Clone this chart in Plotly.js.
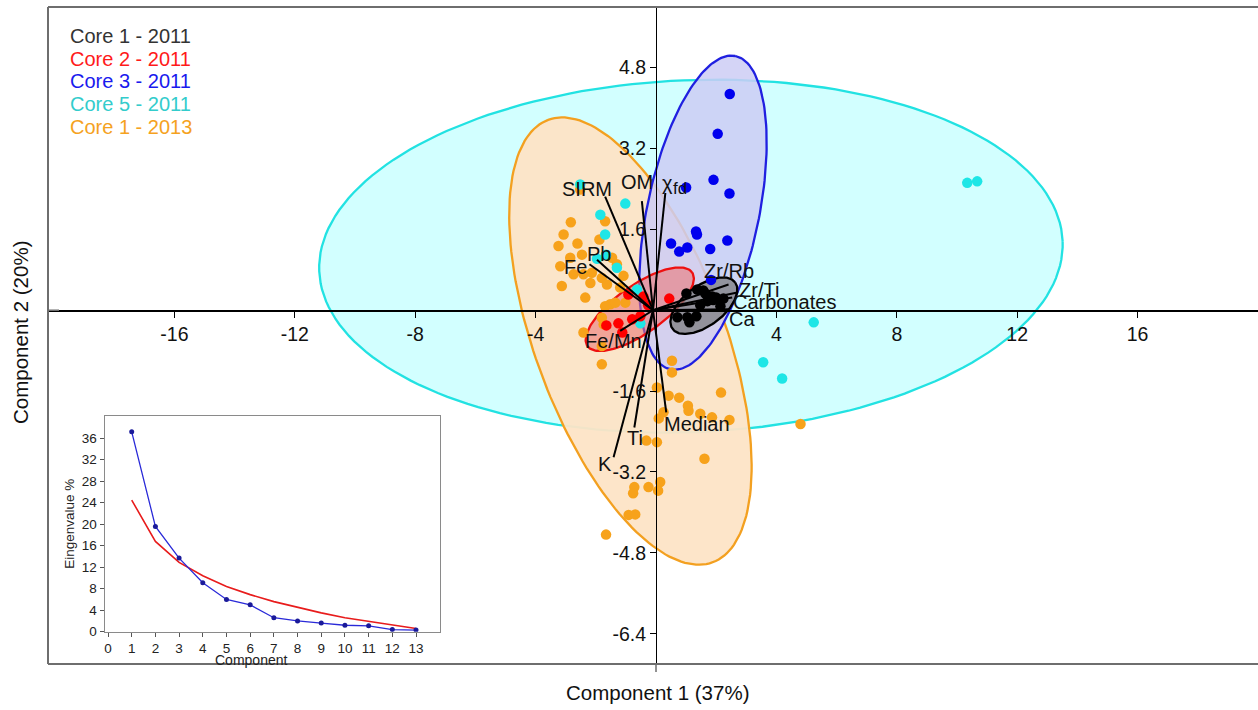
<!DOCTYPE html>
<html>
<head>
<meta charset="utf-8">
<script src="https://cdn.plot.ly/plotly-3.0.1.min.js"></script>
<style>html,body{margin:0;padding:0;background:#fff;}#chart{width:1258px;height:710px;}</style>
</head>
<body>
<div id="chart"></div>
<script>
// ---------------- DATA ----------------
const X_TICKS = [-16, -12, -8, -4, 4, 8, 12, 16];
const Y_TICKS = [-6.4, -4.8, -3.2, -1.6, 1.6, 3.2, 4.8];

const groupNames = ['Core 1 - 2011', 'Core 2 - 2011', 'Core 3 - 2011', 'Core 5 - 2011', 'Core 1 - 2013'];

const core1_2011_x = [1.01, 1.37, 1.64, 1.87, 1.71, 1.90, 1.47, 2.14, 2.24, 2.14, 0.71, 1.04, 1.11, 1.34, 2.00, 1.57];
const core1_2011_y = [0.33, 0.41, 0.33, 0.27, 0.18, 0.20, 0.10, 0.20, 0.23, 0.08, -0.14, -0.14, -0.24, -0.12, 0.25, 0.39];

const core2_2011_x = [-1.65, -1.25, -1.12, -0.92, -0.52, -0.42, -0.26, 0.44, -0.79];
const core2_2011_y = [-0.30, -0.26, -0.44, 0.31, -0.12, 0.27, 0.10, 0.23, -0.18];

const core3_2011_x = [2.45, 2.05, 1.91, 2.44, 1.00, 1.33, 1.36, 0.50, 0.77, 1.04, 1.80, 2.37, 1.83];
const core3_2011_y = [4.28, 3.49, 2.58, 2.31, 2.43, 1.56, 1.50, 1.32, 1.16, 1.24, 1.21, 1.38, 0.60];

const core5_2011_x = [-2.52, -1.02, -1.85, -1.69, -1.66, -1.96, -1.30, -0.63, -0.52, 10.34, 10.67, 5.24, 3.56, 4.19];
const core5_2011_y = [2.49, 2.11, 1.89, 1.50, 1.10, 1.02, 0.84, 0.41, -0.26, 2.52, 2.55, -0.24, -1.03, -1.35];

const core1_2013_x = [-2.52, -2.83, -3.07, -3.24, -2.61, -1.69, -1.88, -2.46, -2.85, -3.18, -1.46, -1.30, -2.74, -2.41, -2.13,
  -2.18, -1.80, -1.63, -1.08, -1.19, -3.13, -2.35, -1.52, -1.35, -1.02, -1.69, -1.80, -1.74, -2.41, -1.80, -1.80,
  0.53, 0.53, 0.03, 0.42, 0.77, 1.06, 1.08, 1.47, 1.86, 2.44, 2.16, 0.25, 0.09, -0.32, 0.03, 1.61, 0.14, -0.72,
  -0.76, -0.25, 0.07, -0.91, -0.69, -1.66, 4.80];
const core1_2013_y = [2.39, 1.74, 1.50, 1.27, 1.32, 1.76, 1.40, 1.10, 1.04, 0.87, 1.04, 0.91, 0.71, 0.71, 0.74,
  0.54, 0.64, 0.51, 0.68, 0.45, 0.48, 0.25, 0.12, 0.15, 0.15, 0.08, -0.15, -0.28, -0.44, -0.71, -1.07,
  -1.00, -1.23, -1.53, -1.69, -1.73, -1.89, -1.99, -2.05, -2.12, -2.17, -1.63, -2.02, -2.14, -2.58, -2.61, -2.94, -3.40, -3.50,
  -3.62, -3.50, -3.57, -4.05, -4.04, -4.44, -2.25];

// Loading vectors (biplot arrows); a label may carry a subscript part
const loadingNames = ['SIRM', 'OM', 'χ', 'Pb', 'Fe', 'Fe/Mn', 'Zr/Rb', 'Zr/Ti', 'Carbonates', 'Ca', 'Median', 'Ti', 'K'];
const loadingSubs  = ['', '', 'fd', '', '', '', '', '', '', '', '', '', ''];
const loadingX = [-1.69, -0.47, 0.31, -1.96, -2.21, -1.19, 2.41, 2.70, 2.53, 2.41, 0.34, -0.72, -1.41];
const loadingY = [2.25, 2.16, 2.32, 1.00, 0.91, -0.41, 0.51, 0.35, 0.25, 0.02, -2.02, -2.32, -2.91];

// Scree plot (inset)
const screeComponent = [1, 2, 3, 4, 5, 6, 7, 8, 9, 10, 11, 12, 13];
const screeEigen = [37.2, 19.6, 13.7, 9.1, 6.0, 5.0, 2.6, 2.0, 1.6, 1.2, 1.1, 0.4, 0.3];
const screeBrokenStick = [24.5, 16.8, 12.9, 10.4, 8.4, 6.9, 5.6, 4.5, 3.5, 2.6, 1.9, 1.2, 0.6];

// ---------------- STYLE / LAYOUT ----------------
const W = 1258, H = 710;
const M = {l: 48, r: 0, t: 7, b: 46};
const XR = [-20.2, 20.0], YR = [-7.0, 6.0];
const plotW = W - M.l - M.r, plotH = H - M.t - M.b;
const sx = plotW / (XR[1] - XR[0]), sy = plotH / (YR[1] - YR[0]);
const FONT = 'Arial, "Liberation Sans", sans-serif';
const px2paperX = p => (p - M.l) / plotW;
const px2paperY = p => (H - M.b - p) / plotH;

const groupColors = ['#000000', '#ff0000', '#0000ee', '#1ee6e6', '#f7a21b'];
const legendColors = ['#333333', '#ff1a1a', '#1a1aee', '#33cccc', '#f5a21e'];

// confidence ellipses: center (data), semi-axes (screen px), rotation (deg, screen, CCW)
const ellipses = [
  {c: [1.16, 1.07], a: 372, b: 176, ang: 2.3, line: '#22e2e2', fill: 'rgba(205,255,255,0.9)'},
  {c: [-0.85, -0.61], a: 236, b: 95, ang: 110.4, line: '#f3a020', fill: 'rgba(253,228,198,0.95)'},
  {c: [1.56, 1.93], a: 160, b: 56, ang: 78.3, line: '#2020e0', fill: 'rgba(205,205,245,0.85)'},
  {c: [-0.54, 0.02], a: 64, b: 24, ang: 35.2, line: '#ee1010', fill: 'rgba(235,120,120,0.6)'},
  {c: [1.59, 0.09], a: 39, b: 20, ang: 36.7, line: '#000000', fill: 'rgba(120,120,120,0.7)'}
];

function ellipseXY(e) {
  const xs = [], ys = [];
  const th = e.ang * Math.PI / 180;
  for (let i = 0; i <= 180; i++) {
    const t = i / 180 * 2 * Math.PI;
    const u = e.a * Math.cos(t), v = e.b * Math.sin(t);
    const X = u * Math.cos(th) - v * Math.sin(th);
    const Y = u * Math.sin(th) + v * Math.cos(th);
    xs.push(e.c[0] + X / sx);
    ys.push(e.c[1] + Y / sy);
  }
  return {xs, ys};
}

const traces = [];
ellipses.forEach(e => {
  const p = ellipseXY(e);
  traces.push({x: p.xs, y: p.ys, type: 'scatter', mode: 'lines', fill: 'toself',
    fillcolor: e.fill, line: {color: e.line, width: 2.3}, hoverinfo: 'skip', showlegend: false,
    xaxis: 'x', yaxis: 'y'});
});

const groupsX = [core1_2011_x, core2_2011_x, core3_2011_x, core5_2011_x, core1_2013_x];
const groupsY = [core1_2011_y, core2_2011_y, core3_2011_y, core5_2011_y, core1_2013_y];
[4, 3, 2, 1, 0].forEach(g => {
  traces.push({x: groupsX[g], y: groupsY[g], type: 'scatter', mode: 'markers', name: groupNames[g],
    marker: {color: groupColors[g], size: 10.5, line: {width: 0}}, showlegend: false, xaxis: 'x', yaxis: 'y'});
});

// loading lines
const ORIGIN = [-0.1, 0.0];
const lx = [], ly = [];
loadingX.forEach((v, i) => { lx.push(ORIGIN[0], v, null); ly.push(ORIGIN[1], loadingY[i], null); });
traces.push({x: lx, y: ly, type: 'scatter', mode: 'lines', line: {color: '#000', width: 2}, hoverinfo: 'skip',
  showlegend: false, xaxis: 'x', yaxis: 'y'});

// scree inset
traces.push({x: screeComponent, y: screeBrokenStick, type: 'scatter', mode: 'lines',
  line: {color: '#e81c1c', width: 1.6}, xaxis: 'x2', yaxis: 'y2', showlegend: false});
traces.push({x: screeComponent, y: screeEigen, type: 'scatter', mode: 'lines+markers',
  line: {color: '#2a2ad8', width: 1.3}, marker: {color: '#1a1a9a', size: 5}, xaxis: 'x2', yaxis: 'y2', showlegend: false});

// label offsets (px) for loading labels
const labelShift = [
  {dx: -18, dy: 8}, {dx: -5, dy: 19}, {dx: 2, dy: 10}, {dx: 2, dy: 6}, {dx: -14, dy: -3}, {dx: -7, dy: -10},
  {dx: 0, dy: 13}, {dx: 22, dy: 3}, {dx: 52, dy: -4}, {dx: 13, dy: -10}, {dx: 31, dy: -12}, {dx: 1, dy: -11}, {dx: -9, dy: -7}
];

const annotations = [];
loadingNames.forEach((n, i) => {
  annotations.push({x: loadingX[i], y: loadingY[i], xref: 'x', yref: 'y', text: n, showarrow: false,
    xshift: labelShift[i].dx, yshift: labelShift[i].dy, font: {family: FONT, size: 20, color: '#111'},
    xanchor: 'center', yanchor: 'middle'});
  if (loadingSubs[i]) {
    annotations.push({x: loadingX[i], y: loadingY[i], xref: 'x', yref: 'y', text: loadingSubs[i], showarrow: false,
      xshift: labelShift[i].dx + 4, yshift: labelShift[i].dy - 6, font: {family: FONT, size: 17, color: '#111'},
      xanchor: 'left', yanchor: 'middle'});
  }
});
// legend texts
groupNames.forEach((n, i) => {
  annotations.push({x: px2paperX(68), y: px2paperY(36 + i * 22.7), xref: 'paper', yref: 'paper',
    text: n, showarrow: false, xanchor: 'left', yanchor: 'middle', font: {family: FONT, size: 20, color: legendColors[i]}});
});
// axis titles
annotations.push({x: px2paperX(657), y: px2paperY(692), xref: 'paper', yref: 'paper', xanchor: 'center', yanchor: 'middle',
  text: 'Component 1 (37%)', showarrow: false, font: {family: FONT, size: 20.5, color: '#111'}});
annotations.push({x: px2paperX(20), y: px2paperY(333), xref: 'paper', yref: 'paper', xanchor: 'center', yanchor: 'middle',
  text: 'Component 2 (20%)', textangle: -90, showarrow: false, font: {family: FONT, size: 20.5, color: '#111'}});
// inset x title
annotations.push({x: px2paperX(251), y: px2paperY(660), xref: 'paper', yref: 'paper', xanchor: 'center', yanchor: 'middle',
  text: 'Component', showarrow: false, font: {family: FONT, size: 14, color: '#222'}});

const frameColor = '#6e6e6e';
const shapes = [
  {type: 'rect', xref: 'paper', yref: 'paper', x0: px2paperX(104.7), x1: px2paperX(439.7),
    y0: px2paperY(631.7), y1: px2paperY(415.7), fillcolor: '#fff', line: {width: 0}, layer: 'below'},
  {type: 'line', xref: 'paper', yref: 'paper', x0: 0, x1: 1, y0: 1, y1: 1, line: {color: frameColor, width: 2}},
  {type: 'line', xref: 'paper', yref: 'paper', x0: 0, x1: 0, y0: 0, y1: 1, line: {color: frameColor, width: 2}},
  {type: 'line', xref: 'paper', yref: 'paper', x0: 0, x1: 1, y0: 0, y1: 0, line: {color: frameColor, width: 2}},
  {type: 'line', xref: 'x', yref: 'paper', x0: 0, x1: 0, y0: 0, y1: -8 / plotH, line: {color: frameColor, width: 1.5}},
  {type: 'line', xref: 'paper', yref: 'y', x0: 0, x1: 11 / plotW, y0: 0, y1: 0, line: {color: frameColor, width: 1.5}}
];

const layout = {
  width: W, height: H, margin: M, paper_bgcolor: '#fff', plot_bgcolor: 'rgba(0,0,0,0)',
  showlegend: false, font: {family: FONT, color: '#111'},
  xaxis: {range: XR, domain: [0, 1], anchor: 'free', position: (0 - YR[0]) / (YR[1] - YR[0]),
    showline: true, linecolor: '#000', linewidth: 1.3, ticks: 'outside', ticklen: 6, tickcolor: '#000',
    tickvals: X_TICKS, ticktext: X_TICKS.map(String), showgrid: false, zeroline: false,
    tickfont: {family: FONT, size: 19.5, color: '#111'}, fixedrange: true},
  yaxis: {range: YR, domain: [0, 1], anchor: 'free', position: (0 - XR[0]) / (XR[1] - XR[0]),
    showline: true, linecolor: '#000', linewidth: 1.3, ticks: 'outside', ticklen: 6, tickcolor: '#000',
    tickvals: Y_TICKS, ticktext: Y_TICKS.map(v => v.toFixed(1)), showgrid: false, zeroline: false,
    tickfont: {family: FONT, size: 19.5, color: '#111'}, fixedrange: true},
  xaxis2: {domain: [px2paperX(104.7), px2paperX(439.7)], anchor: 'y2', range: [-0.14, 14],
    showline: true, mirror: true, linecolor: '#8a8a8a', linewidth: 1.2, ticks: 'outside', ticklen: 4,
    tickcolor: '#555', tickvals: [0,1,2,3,4,5,6,7,8,9,10,11,12,13], showgrid: false, zeroline: false,
    tickfont: {family: FONT, size: 13.5, color: '#222'}},
  yaxis2: {domain: [px2paperY(631.7), px2paperY(415.7)], anchor: 'x2', range: [0, 40.2],
    showline: true, mirror: true, linecolor: '#8a8a8a', linewidth: 1.2, ticks: 'outside', ticklen: 4,
    tickcolor: '#555', tickvals: [0,4,8,12,16,20,24,28,32,36], showgrid: false, zeroline: false,
    tickfont: {family: FONT, size: 13.5, color: '#222'},
    title: {text: 'Eingenvalue %', font: {family: FONT, size: 13.5, color: '#222'}, standoff: 4}},
  annotations: annotations,
  shapes: shapes
};

Plotly.newPlot('chart', traces, layout, {displayModeBar: false, staticPlot: true});
</script>
</body>
</html>
